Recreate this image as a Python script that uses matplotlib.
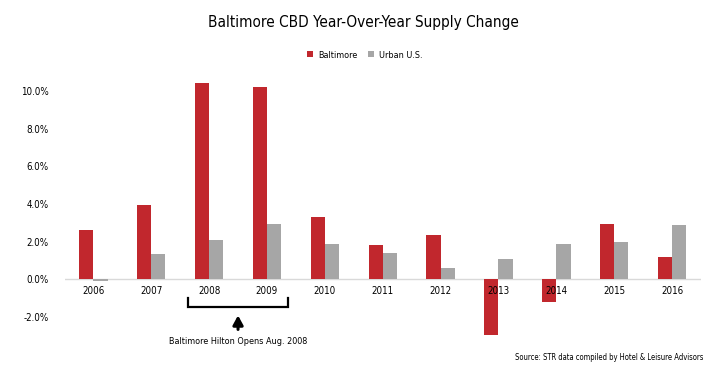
import matplotlib
matplotlib.use("Agg")
import matplotlib.pyplot as plt
import numpy as np
from matplotlib.ticker import FuncFormatter

plt.rcParams['font.family'] = ['DejaVu Sans']
plt.rcParams['font.stretch'] = 'condensed'

years = ['2006', '2007', '2008', '2009', '2010', '2011', '2012', '2013', '2014', '2015', '2016']
baltimore = [2.63, 3.95, 10.4, 10.2, 3.3, 1.85, 2.36, -2.95, -1.18, 2.94, 1.18]
urban_us = [-0.1, 1.33, 2.1, 2.95, 1.9, 1.4, 0.61, 1.07, 1.88, 1.97, 2.91]

red = '#C1272D'
gray = '#A6A6A6'

fig = plt.figure(figsize=(7.26, 3.72), dpi=100)
ax = fig.add_axes([65 / 726, 1 - 336 / 372, 636 / 726, (336 - 72) / 372])

x = np.arange(len(years))
w = 0.245
ax.bar(x - w / 2, baltimore, w, color=red, label='Baltimore', zorder=2)
ax.bar(x + w / 2, urban_us, w, color=gray, label='Urban U.S.', zorder=2)

ax.set_xlim(-0.49, 10.5)
ax.set_ylim(-3.0, 11.0)
ax.set_yticks([-2, 0, 2, 4, 6, 8, 10])
ax.yaxis.set_major_formatter(FuncFormatter(lambda v, p: f'{v:.1f}%'))
ax.axhline(0, color='#D9D9D9', lw=1, zorder=1)
for s in ax.spines.values():
    s.set_visible(False)
ax.tick_params(axis='both', length=0, labelsize=7)
ax.tick_params(axis='y', pad=12)
ax.set_xticks([])
for xi, yr in zip(x, years):
    ax.text(xi, -0.6, yr, ha='center', va='center', fontsize=7)

# bracket under 2008-2009
ax.plot([1.63, 1.63, 3.37, 3.37], [-0.98, -1.46, -1.46, -0.98], color='black', lw=1.6,
        clip_on=False, solid_joinstyle='miter')
ax.annotate('', xy=(2.5, -1.76), xytext=(2.5, -2.8),
            arrowprops=dict(arrowstyle='-|>,head_width=0.3,head_length=0.55', color='black', lw=2.2),
            annotation_clip=False)
ax.text(2.5, -3.3, 'Baltimore Hilton Opens Aug. 2008', ha='center', va='center',
        fontsize=6.5, clip_on=False)

fig.text(0.5, 1 - 22 / 372, 'Baltimore CBD Year-Over-Year Supply Change', ha='center',
         va='center', fontsize=11)
fig.legend(loc='center', bbox_to_anchor=(365 / 726, 1 - 55 / 372), ncol=2, frameon=False,
           fontsize=6.5, handlelength=0.6, handleheight=0.6, columnspacing=1.2,
           handletextpad=0.6)
fig.text(703 / 726, 1 - 357 / 372, 'Source: STR data compiled by Hotel & Leisure Advisors',
         ha='right', va='center', fontsize=5.5)

fig.savefig('out.png', dpi=100)
